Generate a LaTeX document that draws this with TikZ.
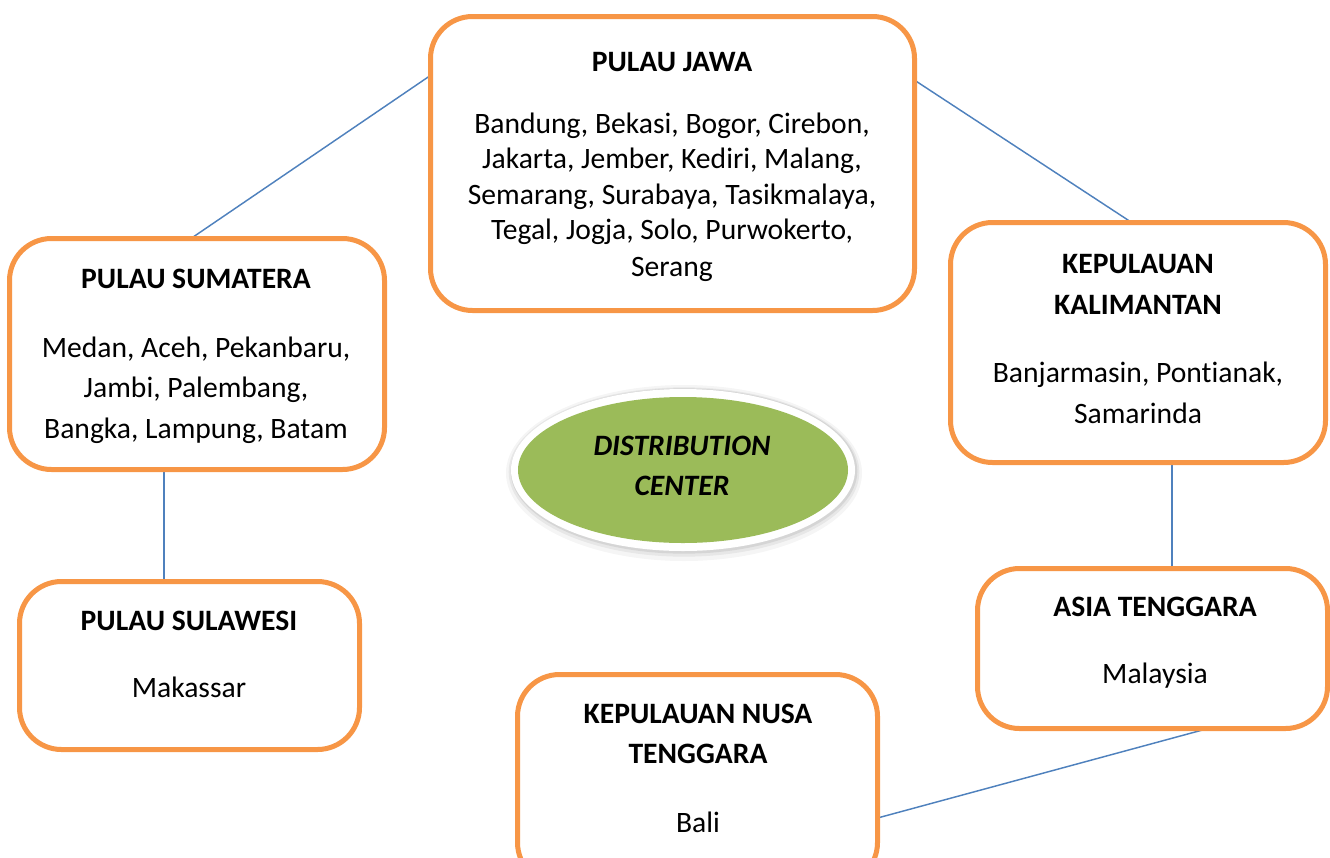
\documentclass[tikz,border=0pt]{standalone}
\usepackage{fontspec}
\setmainfont{Carlito}[Ligatures=NoCommon]
\usetikzlibrary{shapes.geometric}
\definecolor{boxorange}{HTML}{F79646}
\definecolor{linkblue}{HTML}{4F81BD}
\definecolor{centergreen}{HTML}{9BBB59}
\pgfdeclarelayer{bg}
\pgfsetlayers{bg,main}
\begin{document}
\begin{tikzpicture}[x=0.75pt,y=-0.75pt,
  regionbox/.style={draw=boxorange, line width=3.75pt, rounded corners=31.5pt, rectangle, inner sep=0pt, outer sep=0pt, fill=white},
  link/.style={draw=linkblue, line width=1.1pt},
  title/.style={anchor=base, font=\fontsize{22.2pt}{26pt}\selectfont\bfseries, inner sep=0pt},
  city/.style={anchor=base, font=\fontsize{22.2pt}{26pt}\selectfont, inner sep=0pt},
  centertext/.style={anchor=base, font=\fontsize{22.2pt}{26pt}\selectfont\bfseries\itshape, inner sep=0pt}]
\useasboundingbox (0,0) rectangle (1330,857);

% boxes
\node[regionbox, minimum width=363pt, minimum height=220.5pt] (jawa) at (672.5,163.5) {};
\node[regionbox, minimum width=281.25pt, minimum height=173.25pt] (sumatera) at (197,354) {};
\node[regionbox, minimum width=255pt, minimum height=126pt] (sulawesi) at (189.5,665.5) {};
\node[regionbox, minimum width=281.25pt, minimum height=180pt] (kalimantan) at (1138,342.5) {};
\node[regionbox, minimum width=262.5pt, minimum height=120pt] (asia) at (1152.5,648.5) {};
\node[regionbox, minimum width=270pt, minimum height=157.5pt] (nusa) at (697.5,779.5) {};

% connectors
\begin{pgfonlayer}{bg}
\draw[link] (jawa.160.5) -- (sumatera.93.5);
\draw[link] (jawa.19.46) -- (kalimantan.93.8);
\draw[link] ([xshift=-24.75pt]sumatera.south) -- ([xshift=-19.125pt]sulawesi.north);
\draw[link] ([xshift=25.5pt]kalimantan.south) -- ([xshift=14.625pt]asia.north);
\draw[link] ([xshift=41.625pt]asia.south) -- ([yshift=-28.875pt]nusa.east);
\end{pgfonlayer}

% center ellipse with soft shadow and white rim
\fill[black, opacity=0.04] (684,473) ellipse [x radius=133.5pt, y radius=66pt];
\fill[black, opacity=0.06] (684,472) ellipse [x radius=131.5pt, y radius=63.5pt];
\fill[black, opacity=0.08] (684,471) ellipse [x radius=130pt, y radius=62pt];
\fill[white] (683,470) ellipse [x radius=129pt, y radius=60.75pt];
\node[ellipse, fill=centergreen, inner sep=0pt, minimum width=247.5pt, minimum height=109.5pt] (dc) at (683,470) {};
\node[centertext] (dc1) at (682,455) {DISTRIBUTION};
\node[centertext] (dc2) at (682,495) {CENTER};

% texts
\node[title] (jt) at (672,71) {PULAU JAWA};
\node[city] (j1) at (672,133.3) {Bandung, Bekasi, Bogor, Cirebon,};
\node[city] (j2) at (672,168.3) {Jakarta, Jember, Kediri, Malang,};
\node[city] (j3) at (672,204) {Semarang, Surabaya, Tasikmalaya,};
\node[city] (j4) at (672,239.3) {Tegal, Jogja, Solo, Purwokerto,};
\node[city] (j5) at (672,276) {Serang};

\node[title] (st) at (196,288) {PULAU SUMATERA};
\node[city] (s1) at (196,357) {Medan, Aceh, Pekanbaru,};
\node[city] (s2) at (196,397) {Jambi, Palembang,};
\node[city] (s3) at (196,438) {Bangka, Lampung, Batam};

\node[title] (lt) at (189,630) {PULAU SULAWESI};
\node[city] (l1) at (189,697) {Makassar};

\node[title] (kt1) at (1138,273) {KEPULAUAN};
\node[title] (kt2) at (1138,314) {KALIMANTAN};
\node[city] (k1) at (1138,382) {Banjarmasin, Pontianak,};
\node[city] (k2) at (1138,423) {Samarinda};

\node[title] (at) at (1155,616) {ASIA TENGGARA};
\node[city] (a1) at (1155,683) {Malaysia};

\node[title] (nt1) at (698,723) {KEPULAUAN NUSA};
\node[title] (nt2) at (698,763) {TENGGARA};
\node[city] (n1) at (698,832) {Bali};
\end{tikzpicture}
\end{document}
